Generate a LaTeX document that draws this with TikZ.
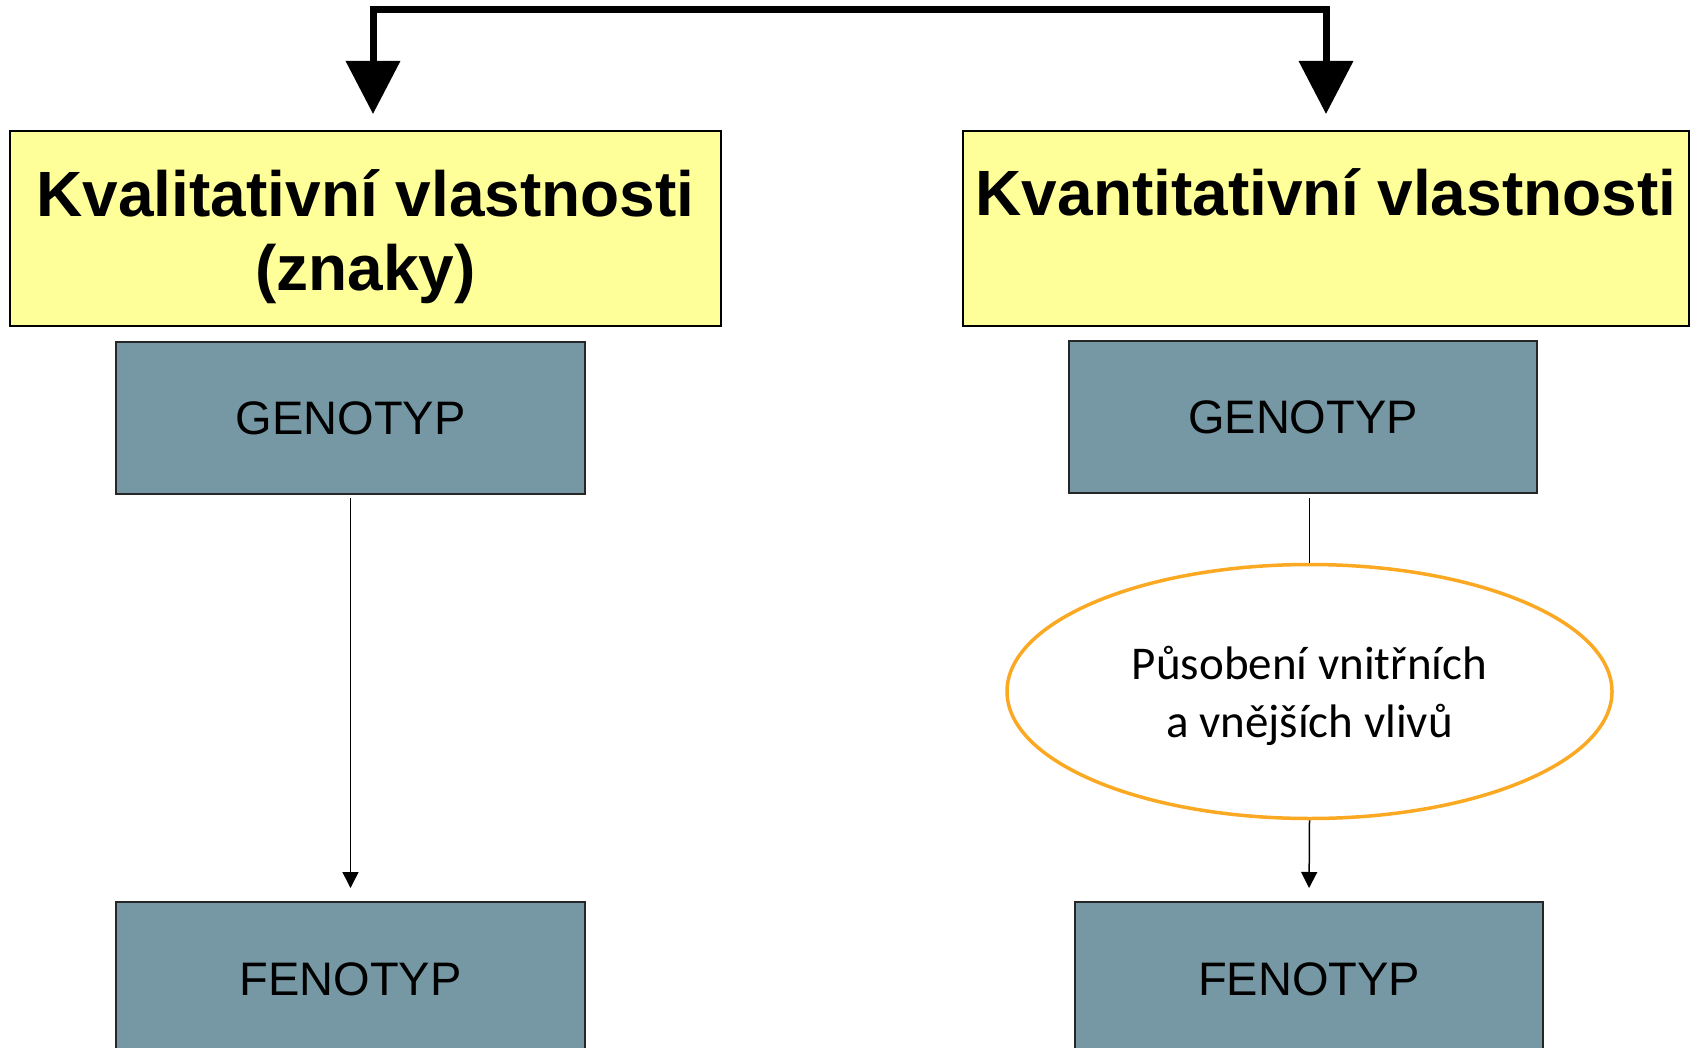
\documentclass[tikz,border=0pt]{standalone}
\usepackage{fontspec}
\setmainfont{Liberation Sans}
\newfontfamily\carlito{Carlito}
\usetikzlibrary{arrows.meta,shapes.geometric}
\definecolor{ylw}{HTML}{FFFF99}
\definecolor{steel}{HTML}{7698A4}
\definecolor{orng}{HTML}{FBA922}
\tikzset{
  ybox/.style={draw=black, line width=2pt, fill=ylw, inner sep=0pt},
  ytext/.style={font=\fontsize{64}{74}\selectfont\bfseries, align=center, inner sep=0pt},
  gbox/.style={draw=black!85, line width=2pt, fill=steel, inner sep=0pt,
    font=\fontsize{47}{56}\selectfont},
  oval/.style={ellipse, draw=orng, line width=3.5pt, fill=white, inner sep=0pt,
    minimum width=605pt, minimum height=254pt},
  ovaltext/.style={align=center, inner sep=0pt,
    font=\carlito\fontsize{47}{58}\selectfont},
  bigarrow/.style={line width=7pt, line join=miter,
    {Triangle[width=53pt,length=53pt]}-{Triangle[width=53pt,length=53pt]}},
  thinline/.style={line width=1.5pt},
  thinarrow/.style={line width=1.5pt, -{Triangle[width=16pt,length=16pt]}}
}
\begin{document}
\begin{tikzpicture}[x=1pt,y=-1pt]
\useasboundingbox (0,0) rectangle (1694,1048);
\clip (0,0) rectangle (1694,1048);
% yellow boxes
\node[ybox, minimum width=711pt, minimum height=195pt] (kval) at (365.5,228.5) {};
\node[ybox, minimum width=726pt, minimum height=195pt] (kvant) at (1326,228.5) {};
\node[ytext] (kvaltext) at (365.5,237) {Kvalitativní vlastnosti\\(znaky)};
\node[ytext, anchor=base] (kvanttext) at (1326,216) {Kvantitativní vlastnosti};
% genotyp / fenotyp
\node[gbox, minimum width=469pt, minimum height=152pt] (g1) at (350.5,418) {GENOTYP};
\node[gbox, minimum width=468pt, minimum height=151pt] (g2) at (1303,417) {GENOTYP};
\node[gbox, minimum width=469pt, minimum height=154pt] (f1) at (350.5,979) {FENOTYP};
\node[gbox, minimum width=468pt, minimum height=154pt] (f2) at (1309,979) {FENOTYP};
% ellipse
\node[oval] (e) at (1309.5,691.5) {};
\node[ovaltext] (etext) at ([yshift=-4pt]e.center) {Působení vnitřních\\a vnějších vlivů};
% top bracket
\coordinate (lx) at (373,0);
\coordinate (top) at (850,10);
\draw[bigarrow, shorten <=16pt, shorten >=16pt] (kval.north -| lx) |- (top) -| (kvant.north);
% connectors
\draw[thinarrow, shorten <=3pt, shorten >=13pt] (g1.south) -- (f1.north);
\draw[thinline, shorten <=4pt] (g2.south -| e.north) -- (e.north);
\draw[thinarrow, shorten >=13pt] (e.south) -- (f2.north);
\end{tikzpicture}
\end{document}
